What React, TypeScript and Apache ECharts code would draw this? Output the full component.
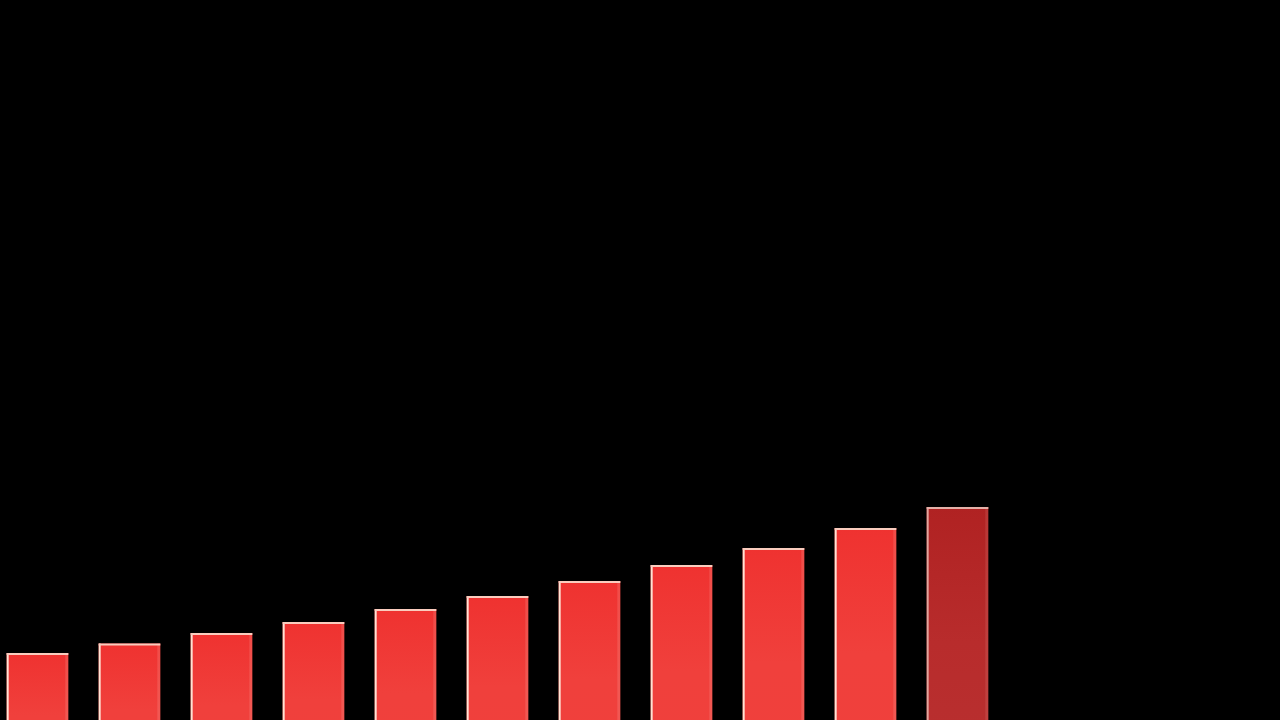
import React, { useEffect, useRef } from "react";
import * as echarts from "echarts";

const categories = ["1", "2", "3", "4", "5", "6", "7", "8", "9", "10", "11", "12", "13", "14"];
const values = [100, 107.6, 116, 124.8, 135.2, 145.6, 157.6, 170.4, 184, 200, 216.8];
const highlightIndex = 10;
const yMax = 622.4;

export default function App() {
  const ref = useRef<HTMLDivElement>(null);
  useEffect(() => {
    if (!ref.current) return;
    const chart = echarts.init(ref.current, undefined, { renderer: "svg" });
    chart.setOption({
      animation: false,
      backgroundColor: "#000000",
      grid: { left: -8.5, top: 0, width: 1288, height: 778, outerBoundsMode: "none", containLabel: false },
      xAxis: { type: "category", data: categories, show: false },
      yAxis: { type: "value", min: 0, max: yMax, show: false },
      series: [
        {
          type: "custom",
          clip: false,
          data: values.map((v, i) => [i, v]),
          encode: { x: 0, y: 1 },
          renderItem: (params: any, api: any) => {
            const idx = api.value(0);
            const top = api.coord([idx, api.value(1)]);
            const base = api.coord([idx, 0]);
            const bw = api.size([1, 0])[0] * 0.67;
            const x = top[0] - bw / 2;
            const y = top[1];
            const h = base[1] - top[1];
            const dark = idx === highlightIndex;
            const fill = new echarts.graphic.LinearGradient(0, 0, 0, 1, dark
              ? [
                  { offset: 0, color: "#B02222" },
                  { offset: 0.5, color: "#B82C2C" },
                  { offset: 1, color: "#B83030" },
                ]
              : [
                  { offset: 0, color: "#EF3230" },
                  { offset: 0.5, color: "#F0403C" },
                  { offset: 1, color: "#EF403C" },
                ]);
            return {
              type: "group",
              children: [
                { type: "rect", shape: { x, y, width: bw, height: h }, style: { fill } },
                {
                  type: "rect",
                  shape: { x: x + bw - 3, y, width: 3, height: h },
                  style: { fill: dark ? "rgba(255,200,190,0.12)" : "rgba(255,220,210,0.15)" },
                },
                {
                  type: "rect",
                  shape: { x, y, width: 2, height: h },
                  style: { fill: dark ? "#E0A69E" : "#FFE2D4" },
                },
                {
                  type: "rect",
                  shape: { x, y, width: bw, height: 2 },
                  style: { fill: dark ? "#E4B0A8" : "#FACCBE" },
                },
              ],
            };
          },
        },
      ],
    });
    return () => chart.dispose();
  }, []);
  return (
    <div
      ref={ref}
      style={{ position: "absolute", left: 0, top: 0, width: 1280, height: 720, background: "#000" }}
    />
  );
}
